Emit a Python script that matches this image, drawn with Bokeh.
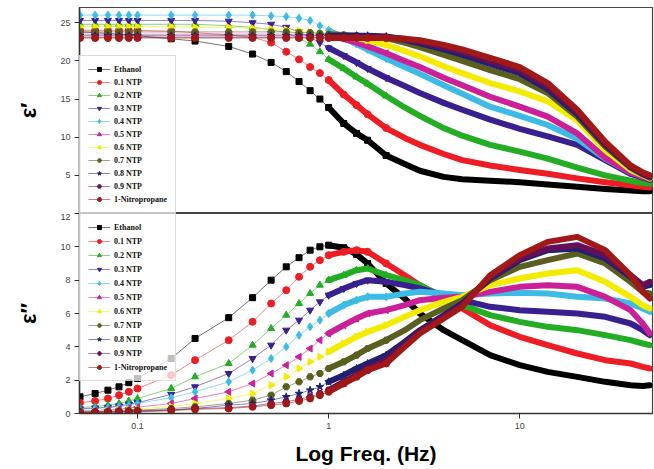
import math
from bokeh.plotting import figure
from bokeh.layouts import column
from bokeh.models import Range1d, FixedTicker, Legend, LegendItem, CustomJSTickFormatter
from bokeh.embed import file_html
from bokeh.resources import INLINE

# ---------------- data ----------------
freq_ghz = [0.05, 0.06, 0.07, 0.08, 0.09, 0.1, 0.15, 0.2, 0.3, 0.4, 0.5, 0.6, 0.7, 0.8, 0.9, 1.0,
            1.2, 1.4, 1.6, 2.0, 2.5, 3, 4, 5, 7, 10, 14, 20, 28, 38, 44, 48]

series_names = ["Ethanol", "0.1 NTP", "0.2 NTP", "0.3 NTP", "0.4 NTP", "0.5 NTP",
                "0.6 NTP", "0.7 NTP", "0.8 NTP", "0.9 NTP", "1-Nitropropane"]

# real permittivity  eps'
eps1_ethanol = [23.8, 23.7, 23.6, 23.5, 23.4, 23.3, 22.9, 22.6, 21.9, 20.9, 19.8, 18.6, 17.3, 16.1, 15.0, 13.9,
                11.8, 10.5, 9.6, 7.6, 6.5, 5.6, 4.8, 4.5, 4.3, 4.1, 3.8, 3.5, 3.2, 3.0, 2.9, 2.9]
eps1_ntp01 = [24.0, 24.0, 24.0, 24.0, 24.0, 24.0, 23.9, 23.7, 23.4, 23.1, 22.4, 21.2, 20.2, 19.2, 18.4, 17.5,
              15.6, 14.2, 13.0, 11.2, 9.9, 9.0, 7.8, 7.0, 6.3, 5.7, 5.2, 4.6, 4.1, 3.7, 3.5, 3.4]
eps1_ntp02 = [24.8, 24.8, 24.8, 24.8, 24.8, 24.8, 24.8, 24.8, 24.6, 24.4, 24.1, 23.7, 23.0, 22.2, 21.2, 20.2,
              19.0, 17.9, 17.0, 15.4, 13.9, 12.8, 11.2, 10.2, 9.0, 8.1, 7.2, 6.0, 5.0, 4.3, 4.0, 3.9]
eps1_ntp03 = [25.3, 25.3, 25.3, 25.3, 25.3, 25.3, 25.3, 25.3, 25.2, 25.0, 24.8, 24.4, 23.8, 23.1, 22.4, 21.7,
              20.7, 19.8, 19.0, 17.8, 16.7, 15.8, 14.5, 13.6, 12.3, 11.1, 10.1, 9.0, 7.0, 5.2, 4.7, 4.4]
eps1_ntp04 = [26.0, 26.0, 26.0, 26.0, 26.0, 26.0, 26.0, 26.0, 26.0, 26.0, 25.9, 25.8, 25.6, 25.3, 24.6, 24.0,
              23.0, 22.2, 21.5, 20.3, 19.2, 18.3, 16.8, 15.7, 14.0, 12.8, 11.6, 9.8, 7.2, 5.4, 4.9, 4.6]
eps1_ntp05 = [23.5, 23.5, 23.5, 23.5, 23.5, 23.5, 23.5, 23.5, 23.5, 23.5, 23.5, 23.5, 23.5, 23.4, 23.4, 23.3,
              22.9, 22.4, 21.9, 21.0, 20.0, 19.2, 17.8, 16.8, 15.3, 14.0, 12.7, 10.5, 7.3, 5.4, 4.8, 4.5]
eps1_ntp06 = [24.5, 24.5, 24.5, 24.5, 24.5, 24.5, 24.5, 24.4, 24.4, 24.3, 24.2, 24.1, 24.0, 23.8, 23.6, 23.5,
              23.3, 23.0, 22.7, 22.1, 21.3, 20.6, 19.3, 18.4, 17.1, 16.0, 14.7, 12.2, 8.3, 5.7, 5.0, 4.6]
eps1_ntp07 = [23.8, 23.8, 23.8, 23.8, 23.8, 23.8, 23.8, 23.8, 23.8, 23.8, 23.8, 23.8, 23.7, 23.7, 23.6, 23.5,
              23.4, 23.3, 23.2, 23.0, 22.4, 21.8, 20.8, 20.0, 18.8, 17.6, 15.8, 12.7, 8.8, 6.0, 5.1, 4.7]
eps1_ntp08 = [23.3, 23.3, 23.3, 23.3, 23.3, 23.3, 23.3, 23.3, 23.3, 23.3, 23.3, 23.3, 23.3, 23.3, 23.3, 23.3,
              23.3, 23.3, 23.3, 23.2, 22.8, 22.3, 21.5, 20.8, 19.6, 18.4, 16.3, 13.0, 9.0, 6.1, 5.2, 4.8]
eps1_ntp09 = [23.1, 23.1, 23.1, 23.1, 23.1, 23.1, 23.1, 23.1, 23.1, 23.1, 23.1, 23.1, 23.1, 23.1, 23.1, 23.1,
              23.1, 23.1, 23.1, 23.1, 22.9, 22.5, 21.8, 21.2, 20.0, 18.8, 16.7, 13.3, 9.2, 6.2, 5.3, 4.9]
eps1_nitro = [23.0, 23.0, 23.0, 23.0, 23.0, 23.0, 23.0, 23.0, 23.0, 23.0, 23.0, 23.0, 23.0, 23.0, 23.0, 23.0,
              23.0, 23.0, 23.0, 23.0, 22.9, 22.7, 22.1, 21.5, 20.4, 19.2, 17.1, 13.6, 9.4, 6.3, 5.4, 5.0]

# imaginary permittivity  eps''
eps2_ethanol = [1.0, 1.2, 1.4, 1.6, 1.85, 2.1, 3.3, 4.5, 5.75, 6.95, 8.0, 8.8, 9.35, 9.8, 10.0, 10.1,
                9.95, 9.55, 9.0, 7.8, 6.9, 6.0, 5.0, 4.4, 3.5, 2.9, 2.5, 2.2, 1.9, 1.7, 1.65, 1.7]
eps2_ntp01 = [0.65, 0.75, 0.9, 1.1, 1.3, 1.5, 2.3, 3.2, 4.4, 5.5, 6.6, 7.4, 8.2, 8.8, 9.2, 9.5,
              9.7, 9.8, 9.7, 9.0, 8.3, 7.7, 6.9, 6.3, 5.3, 4.6, 4.1, 3.6, 3.2, 3.0, 2.8, 2.7]
eps2_ntp02 = [0.35, 0.42, 0.5, 0.6, 0.75, 0.9, 1.5, 2.2, 3.0, 4.1, 5.1, 5.9, 6.6, 7.2, 7.7, 8.0,
              8.3, 8.6, 8.7, 8.3, 8.0, 7.7, 7.0, 6.5, 5.9, 5.5, 5.2, 5.0, 4.7, 4.4, 4.2, 4.1]
eps2_ntp03 = [0.28, 0.33, 0.38, 0.45, 0.55, 0.65, 1.15, 1.6, 2.4, 3.3, 4.1, 5.0, 5.6, 6.2, 6.7, 7.1,
              7.5, 7.8, 8.0, 7.9, 7.7, 7.5, 7.1, 6.8, 6.4, 6.2, 6.1, 6.0, 5.8, 5.4, 5.0, 4.7]
eps2_ntp04 = [0.25, 0.3, 0.35, 0.42, 0.5, 0.6, 0.95, 1.3, 1.9, 2.6, 3.3, 4.0, 4.7, 5.2, 5.6, 6.0,
              6.5, 6.8, 7.0, 7.0, 7.2, 7.3, 7.2, 7.1, 7.2, 7.25, 7.2, 7.0, 6.9, 6.6, 6.3, 6.1]
eps2_ntp05 = [0.15, 0.18, 0.22, 0.26, 0.32, 0.38, 0.6, 0.9, 1.3, 1.8, 2.4, 2.9, 3.4, 3.9, 4.4, 4.8,
              5.3, 5.7, 6.0, 6.2, 6.5, 6.8, 6.95, 7.0, 7.3, 7.6, 7.7, 7.6, 7.0, 6.2, 5.4, 4.8]
eps2_ntp06 = [0.12, 0.14, 0.17, 0.2, 0.24, 0.28, 0.42, 0.6, 0.9, 1.2, 1.7, 2.2, 2.7, 3.1, 3.4, 3.7,
              4.2, 4.6, 4.9, 5.3, 5.8, 6.2, 6.7, 7.0, 7.7, 8.1, 8.4, 8.6, 7.9, 7.0, 6.5, 6.3]
eps2_ntp07 = [0.1, 0.11, 0.13, 0.15, 0.17, 0.2, 0.3, 0.4, 0.6, 0.8, 1.1, 1.6, 1.9, 2.2, 2.4, 2.7,
              3.1, 3.5, 3.9, 4.4, 5.0, 5.6, 6.3, 6.8, 8.0, 8.8, 9.2, 9.6, 9.0, 7.9, 7.3, 7.2]
eps2_ntp08 = [0.08, 0.09, 0.1, 0.12, 0.14, 0.16, 0.22, 0.3, 0.5, 0.6, 0.8, 1.0, 1.2, 1.4, 1.6, 1.9,
              2.3, 2.7, 3.0, 3.5, 4.3, 5.0, 5.9, 6.6, 8.1, 9.2, 9.8, 9.9, 9.3, 8.2, 7.6, 7.7]
eps2_ntp09 = [0.06, 0.07, 0.08, 0.1, 0.11, 0.13, 0.2, 0.3, 0.35, 0.45, 0.6, 0.7, 0.85, 1.0, 1.2, 1.4,
              1.9, 2.3, 2.7, 3.2, 4.1, 4.9, 5.8, 6.5, 8.2, 9.3, 9.9, 10.1, 9.5, 8.3, 7.7, 7.9]
eps2_nitro = [0.05, 0.06, 0.07, 0.08, 0.09, 0.1, 0.17, 0.25, 0.3, 0.4, 0.5, 0.6, 0.75, 0.9, 1.1, 1.3,
              1.8, 2.2, 2.6, 3.0, 4.0, 4.8, 5.7, 6.4, 8.3, 9.5, 10.3, 10.6, 9.8, 8.3, 7.3, 6.9]

eps1_all = [eps1_ethanol, eps1_ntp01, eps1_ntp02, eps1_ntp03, eps1_ntp04, eps1_ntp05,
            eps1_ntp06, eps1_ntp07, eps1_ntp08, eps1_ntp09, eps1_nitro]
eps2_all = [eps2_ethanol, eps2_ntp01, eps2_ntp02, eps2_ntp03, eps2_ntp04, eps2_ntp05,
            eps2_ntp06, eps2_ntp07, eps2_ntp08, eps2_ntp09, eps2_nitro]

x_ticks = [0.1, 1, 10]
y1_ticks = [5, 10, 15, 20, 25]
y2_ticks = [0, 2, 4, 6, 8, 10, 12]

# ---------------- styles ----------------
colors = ["#000000", "#ee1c25", "#22ad22", "#3a1f8f", "#3cbce4", "#cc2098",
          "#f3ec00", "#5a5e1e", "#20206e", "#641058", "#a01818"]
markers = ["square", "circle", "triangle", "inverted_triangle", "diamond", "triangle",
           "triangle", "hex", "star", "hex", "circle"]
angles = [0, 0, 0, 0, 0, math.pi / 2, -math.pi / 2, 0, 0, 0, 0]
sizes = [6, 7, 7, 7, 8, 7, 7, 7, 8, 7, 7]
BAND_START = 1.0     # where the measured points merge into a solid band
MARKER_END = 2.0     # above this the individual markers are no longer distinguishable

x_range = Range1d(0.0497, 49.5)


def make_panel(height, y_range, y_ticks, data, ylabel, border_top, border_bottom,
               legend_loc, legend_spacing):
    p = figure(width=654, height=height, x_axis_type="log", x_range=x_range,
               y_range=y_range, output_backend="svg", toolbar_location=None, title=None,
               min_border_left=79, min_border_right=2, min_border_top=border_top,
               min_border_bottom=border_bottom)
    p.background_fill_color = "white"
    p.border_fill_color = "white"
    p.outline_line_color = "#444444"
    p.outline_line_width = 1.2
    p.xgrid.visible = False
    p.ygrid.visible = False

    items = []
    for i, ys in enumerate(data):
        c = colors[i]
        thin = p.line(freq_ghz, ys, line_color=c, line_width=1, line_alpha=0.55)
        bx = [f for f in freq_ghz if f >= BAND_START]
        by = [y for f, y in zip(freq_ghz, ys) if f >= BAND_START]
        p.line(bx, by, line_color=c, line_width=6, line_cap="round", line_join="round")
        mx = [f for f in freq_ghz if f <= MARKER_END]
        my = [y for f, y in zip(freq_ghz, ys) if f <= MARKER_END]
        sc = p.scatter(mx, my, marker=markers[i], size=sizes[i], angle=angles[i],
                       fill_color=c, line_color=c)
        items.append(LegendItem(label=series_names[i], renderers=[thin, sc]))

    legend = Legend(items=items, location=legend_loc, margin=0, padding=8,
                    spacing=legend_spacing, label_height=10, glyph_height=10, glyph_width=22,
                    label_standoff=4, label_text_font="Liberation Serif",
                    label_text_font_style="bold", label_text_font_size="8px",
                    label_text_color="#111111",
                    border_line_color="#bbbbbb", border_line_width=1,
                    background_fill_color="white", background_fill_alpha=0.75)
    p.add_layout(legend)

    ya = p.yaxis[0]
    ya.ticker = FixedTicker(ticks=y_ticks)
    ya.minor_tick_line_color = None
    ya.major_tick_out = 5
    ya.major_tick_in = 0
    ya.axis_line_color = "#333333"
    ya.axis_line_width = 1.5
    ya.major_tick_line_color = "#333333"
    ya.major_label_text_font = "Liberation Sans"
    ya.major_label_text_font_size = "9px"
    ya.major_label_text_color = "#444444"
    ya.major_label_standoff = 4
    ya.axis_label = ylabel
    ya.axis_label_text_font = "Liberation Sans"
    ya.axis_label_text_font_style = "bold"
    ya.axis_label_text_font_size = "22px"
    ya.axis_label_text_color = "#000000"
    ya.axis_label_standoff = 16
    return p


top = make_panel(213, Range1d(0, 27), y1_ticks, eps1_all, "ε′", 7, 0, "bottom_left", 3)
top.xaxis.visible = False

bot = make_panel(256, Range1d(0, 12), y2_ticks, eps2_all, "ε″", 0, 56, "top_left", 4)
xa = bot.xaxis[0]
xa.ticker = FixedTicker(ticks=x_ticks)
xa.formatter = CustomJSTickFormatter(code="return (tick < 1) ? tick.toFixed(1) : tick.toFixed(0);")
xa.minor_tick_line_color = None
xa.major_tick_out = 5
xa.major_tick_in = 0
xa.axis_line_color = "#333333"
xa.axis_line_width = 1.5
xa.major_tick_line_color = "#333333"
xa.major_label_text_font = "Liberation Sans"
xa.major_label_text_font_size = "9px"
xa.major_label_text_color = "#444444"
xa.major_label_standoff = 4
xa.axis_label = "Log Freq. (Hz)"
xa.axis_label_text_font = "Liberation Sans"
xa.axis_label_text_font_style = "bold"
xa.axis_label_text_font_size = "21px"
xa.axis_label_text_color = "#000000"
xa.axis_label_standoff = 10

layout = column(top, bot, spacing=0)

open("out.html", "w").write(file_html(layout, INLINE))
